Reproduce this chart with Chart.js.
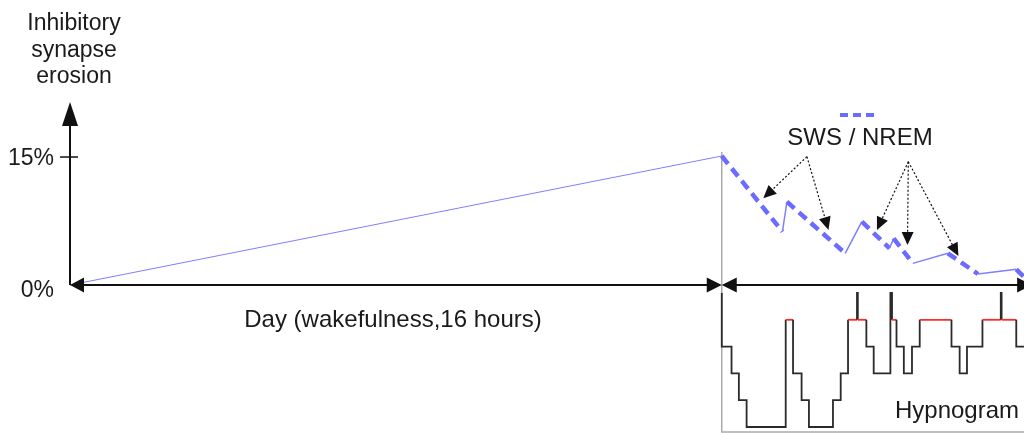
<!DOCTYPE html>
<html>
<head>
<meta charset="utf-8">
<script src="https://cdn.jsdelivr.net/npm/chart.js@4.4.1/dist/chart.umd.min.js"></script>
<style>
  html, body { margin: 0; padding: 0; background: #fff; }
  canvas { display: block; }
</style>
</head>
<body>
<canvas id="erosionChart" width="1024" height="433"></canvas>
<script>
// erosion curve: hours since waking -> % inhibitory synapse erosion
const erosionHours = [0, 16.0, 17.49, 17.60, 19.03, 19.44, 20.12, 20.22, 20.69, 21.55, 22.29, 23.23, 23.5];
const erosionValues = [0, 15.12, 6.25, 9.76, 3.72, 7.42, 4.30, 5.47, 2.54, 3.72, 1.29, 1.84, 0.59];
// state between each pair of points (sws segments are dashed)
const erosionPhases = ['wake', 'sws', 'rem', 'sws', 'rem', 'sws', 'wake', 'sws', 'rem', 'sws', 'rem', 'sws'];

// hypnogram: stage that starts at each hour
// 0 = wake, 1 = REM, 2..5 = NREM stages 1-4
const hypnoHours = [16.0, 16.0, 16.24, 16.42, 16.61, 17.57, 17.75, 17.96, 18.14, 18.73, 18.92, 19.10, 19.32, 19.34,
  19.55, 19.73, 20.14, 20.18, 20.29, 20.47, 20.67, 20.86, 21.64, 21.84, 22.02, 22.40, 22.85, 22.87, 23.23];
const hypnoStages = [0, 2, 3, 4, 5, 1, 3, 4, 5, 4, 3, 1, 0, 1,
  2, 3, 0, 1, 2, 3, 2, 1, 2, 3, 2, 1, 0, 1, 2];
const hypnoEnd = 23.5;

const yTicks = [0, 15];
const yTickLabels = ['0%', '15%'];
const dayEnd = 16;

// dotted pointers from the "SWS / NREM" label
const pointerFrom = [[18.09, 15.04], [20.58, 14.45]];
const pointerTo = [
  [[17.02, 10.16], [18.62, 6.45]],
  [[19.81, 6.45], [20.56, 4.69], [21.81, 3.40]]
];

const lineBlue = '#6b6bff';
const thinBlue = '#7f7fff';
const font = '"Liberation Sans", Arial, sans-serif';

const erosionPoints = erosionHours.map((h, i) => ({ x: h, y: erosionValues[i] }));

const hypnoPoints = [];
hypnoHours.forEach((h, i) => {
  const next = i + 1 < hypnoHours.length ? hypnoHours[i + 1] : hypnoEnd;
  hypnoPoints.push({ x: h, y: hypnoStages[i] });
  hypnoPoints.push({ x: next, y: hypnoStages[i] });
});

function arrowHead(ctx, x, y, angle, len, half) {
  ctx.save();
  ctx.translate(x, y);
  ctx.rotate(angle);
  ctx.beginPath();
  ctx.moveTo(0, 0);
  ctx.lineTo(-len, -half);
  ctx.lineTo(-len, half);
  ctx.closePath();
  ctx.fill();
  ctx.restore();
}

const decorations = {
  id: 'decorations',
  beforeDatasetsDraw(chart) {
    const { ctx, scales: { x, y } } = chart;
    // hypnogram frame
    ctx.save();
    ctx.strokeStyle = '#aaaaaa';
    ctx.lineWidth = 1.5;
    ctx.beginPath();
    ctx.moveTo(x.getPixelForValue(dayEnd), y.getPixelForValue(15.6));
    ctx.lineTo(x.getPixelForValue(dayEnd), chart.height - 1);
    ctx.lineTo(chart.width, chart.height - 1);
    ctx.stroke();
    ctx.restore();
  },
  afterDatasetsDraw(chart) {
    const { ctx, scales: { x, y } } = chart;
    const x0 = x.getPixelForValue(0);
    const y0 = y.getPixelForValue(0);
    const xd = x.getPixelForValue(dayEnd);
    const xr = x.getPixelForValue(23.62);
    ctx.save();
    ctx.strokeStyle = '#111';
    ctx.fillStyle = '#111';
    ctx.lineWidth = 2;

    // vertical axis
    const yTop = y.getPixelForValue(21.45);
    ctx.beginPath();
    ctx.moveTo(x0, y0);
    ctx.lineTo(x0, yTop + 20);
    ctx.stroke();
    arrowHead(ctx, x0, yTop, -Math.PI / 2, 24, 8);

    // horizontal axis: day and night
    ctx.beginPath();
    ctx.moveTo(x0 + 10, y0);
    ctx.lineTo(xd - 10, y0);
    ctx.moveTo(xd + 10, y0);
    ctx.lineTo(xr - 10, y0);
    ctx.stroke();
    arrowHead(ctx, x0, y0, Math.PI, 14, 7.5);
    arrowHead(ctx, xd, y0, 0, 15, 7.5);
    arrowHead(ctx, xd, y0, Math.PI, 15, 7.5);
    arrowHead(ctx, xr, y0, 0, 15, 7.5);

    // tick + labels
    ctx.lineWidth = 1.5;
    ctx.beginPath();
    ctx.moveTo(x0 - 10, y.getPixelForValue(15));
    ctx.lineTo(x0 + 8, y.getPixelForValue(15));
    ctx.stroke();

    ctx.fillStyle = '#1a1a1a';
    ctx.font = '23px ' + font;
    ctx.textAlign = 'right';
    ctx.textBaseline = 'middle';
    yTicks.forEach((v, i) => {
      ctx.fillText(yTickLabels[i], 54, y.getPixelForValue(v) + (v === 0 ? 6 : 2));
    });

    ctx.textAlign = 'center';
    ctx.textBaseline = 'alphabetic';
    ctx.font = '23px ' + font;
    ctx.fillText('Inhibitory', 74, 30);
    ctx.fillText('synapse', 74, 57);
    ctx.fillText('erosion', 74, 83);

    ctx.font = '24px ' + font;
    ctx.fillText('Day (wakefulness,16 hours)', 393, 327);
    ctx.fillText('SWS / NREM', 860, 145);
    ctx.fillText('Hypnogram', 957, 418);

    // legend dash sample
    ctx.strokeStyle = lineBlue;
    ctx.lineWidth = 4;
    ctx.setLineDash([8, 5]);
    ctx.beginPath();
    ctx.moveTo(840, 115);
    ctx.lineTo(876, 115);
    ctx.stroke();

    // dotted pointers
    ctx.strokeStyle = '#111';
    ctx.fillStyle = '#111';
    ctx.lineWidth = 1.2;
    pointerFrom.forEach((from, i) => {
      const fx = x.getPixelForValue(from[0]);
      const fy = y.getPixelForValue(from[1]);
      pointerTo[i].forEach(to => {
        const tx = x.getPixelForValue(to[0]);
        const ty = y.getPixelForValue(to[1]);
        const ang = Math.atan2(ty - fy, tx - fx);
        ctx.setLineDash([2, 2]);
        ctx.beginPath();
        ctx.moveTo(fx, fy);
        ctx.lineTo(tx - Math.cos(ang) * 10, ty - Math.sin(ang) * 10);
        ctx.stroke();
        ctx.setLineDash([]);
        arrowHead(ctx, tx, ty, ang, 13, 6);
      });
    });
    ctx.restore();
  }
};

new Chart(document.getElementById('erosionChart'), {
  type: 'line',
  data: {
    datasets: [
      {
        data: erosionPoints,
        yAxisID: 'y',
        borderColor: lineBlue,
        borderWidth: 1.5,
        pointRadius: 0,
        segment: {
          borderDash: c => erosionPhases[c.p0DataIndex] === 'sws' ? [10, 6] : undefined,
          borderWidth: c => erosionPhases[c.p0DataIndex] === 'sws' ? 4.5 : (c.p0DataIndex === 0 ? 1 : 1.5),
          borderColor: c => erosionPhases[c.p0DataIndex] === 'sws' ? lineBlue : thinBlue
        }
      },
      {
        data: hypnoPoints,
        yAxisID: 'yh',
        borderColor: '#2a2a2a',
        borderWidth: 1.8,
        pointRadius: 0,
        segment: {
          borderColor: c => (c.p0.parsed.y === 1 && c.p1.parsed.y === 1) ? '#ff2a2a' : undefined
        }
      }
    ]
  },
  options: {
    responsive: false,
    animation: false,
    devicePixelRatio: 1,
    layout: { padding: 0 },
    plugins: { legend: { display: false }, tooltip: { enabled: false } },
    scales: {
      x: { type: 'linear', min: -1.719, max: 23.42, display: false },
      y: { min: -17.34, max: 33.40, display: false },
      yh: { min: -10.933, max: 5.224, reverse: true, display: false }
    }
  },
  plugins: [decorations]
});
</script>
</body>
</html>
